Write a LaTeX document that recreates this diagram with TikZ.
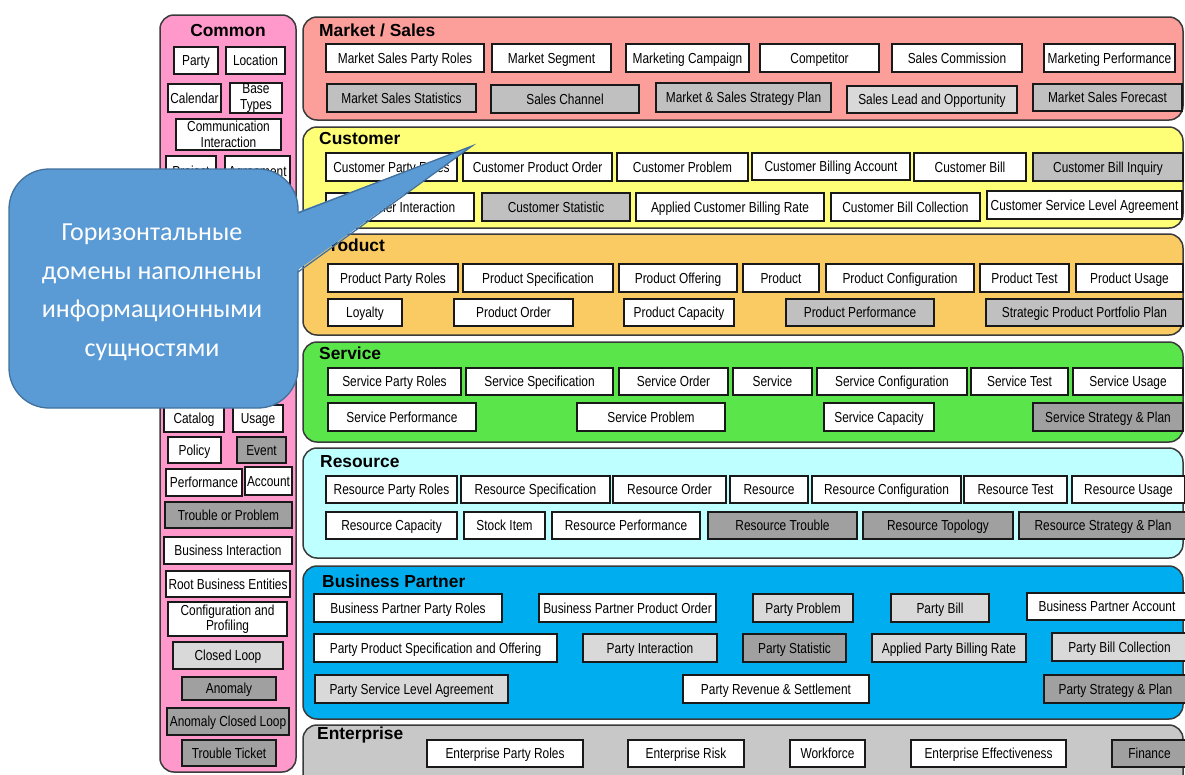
\documentclass[tikz,border=0pt]{standalone}
\usepackage{fontspec}
\setmainfont{Liberation Sans}
\newfontfamily\boxfont[FakeStretch=0.82]{Liberation Sans}
\newfontfamily\calfont{Carlito}

\definecolor{cCommon}{HTML}{FF99CC}
\definecolor{cMarket}{HTML}{FC9E9A}
\definecolor{cCustomer}{HTML}{FFFF77}
\definecolor{cProduct}{HTML}{FBCB63}
\definecolor{cService}{HTML}{5AE64B}
\definecolor{cResource}{HTML}{BEFFFF}
\definecolor{cPartner}{HTML}{00AEEF}
\definecolor{cEnterprise}{HTML}{C8C8C8}
\definecolor{gL}{HTML}{D9D9D9}
\definecolor{gM}{HTML}{C0C0C0}
\definecolor{gD}{HTML}{A0A0A0}
\definecolor{calloutFill}{HTML}{5B9BD5}
\definecolor{calloutLine}{HTML}{41719C}
\definecolor{panelLine}{HTML}{3A3A3A}

% entity box (one line): name, fill, x1, y1, x2, y2, text
\newcommand{\ent}[7]{%
  \node[entity, text height=10.4pt, text depth=0pt, fill=#2,
        minimum width={#5pt-#3pt}, minimum height={#6pt-#4pt}]
    (#1) at ({(#3+#5)/2},{(#4+#6)/2}) {#7};}
% entity box (two lines)
\newcommand{\entml}[7]{%
  \node[entity, fill=#2, minimum width={#5pt-#3pt}, minimum height={#6pt-#4pt}]
    (#1) at ({(#3+#5)/2},{(#4+#6)/2}) {#7};}
% domain panel: x1, y1, x2, y2, fill
\newcommand{\panel}[5]{%
  \path[domainpanel, fill=#5] (#1,#2) rectangle (#3,#4);}

\tikzset{
  entity/.style={draw=black!90, line width=1.4pt, inner sep=0pt, align=center,
    font=\boxfont\fontsize{14.5}{15.5}\selectfont},
  domainpanel/.style={draw=panelLine, line width=1.5pt, rounded corners=14pt},
  title/.style={anchor=base west, inner sep=0pt, font=\bfseries\fontsize{17.4}{19}\selectfont},
}

\begin{document}
\begin{tikzpicture}[x=1pt, y=-1pt]
\useasboundingbox (0,0) rectangle (1185,774);
\fill[white] (0,0) rectangle (1185,774);

% ---------- panels ----------
\panel{160}{15}{296}{772}{cCommon}
\panel{303}{17}{1183}{120}{cMarket}
\panel{303}{127}{1183}{228}{cCustomer}
\panel{303}{234}{1183}{335}{cProduct}
\panel{303}{342}{1183}{442}{cService}
\panel{303}{448}{1183}{558}{cResource}
\panel{303}{566}{1183}{719}{cPartner}
\panel{303}{725}{1183}{800}{cEnterprise}

% ---------- titles ----------
\node[title, anchor=base] (tCommon) at (228,36) {Common};
\node[title] (tMarket) at (319,36) {Market / Sales};
\node[title] (tCustomer) at (319,144.3) {Customer};
\node[title] (tProduct) at (319,251.7) {Product};
\node[title] (tService) at (319,359) {Service};
\node[title] (tResource) at (320,467) {Resource};
\node[title] (tPartner) at (322,587) {Business Partner};
\node[title] (tEnterprise) at (317,739) {Enterprise};

% ---------- Common ----------
\ent{cParty}{white}{174}{47}{218}{74}{Party}
\ent{cLoc}{white}{226}{47}{285}{74}{Location}
\ent{cCal}{white}{168}{84}{221}{112}{Calendar}
\entml{cBase}{white}{230}{83}{282}{113}{Base\\Types}
\entml{cComm}{white}{176}{119}{281}{150}{Communication\\Interaction}
\ent{cProj}{white}{166}{156}{216}{186}{Project}
\ent{cAgr}{white}{225}{156}{290}{186}{Agreement}
\ent{cCat}{white}{164}{405}{224}{432}{Catalog}
\ent{cUse}{white}{233}{405}{283}{432}{Usage}
\ent{cPol}{white}{168}{437}{221}{463}{Policy}
\ent{cEv}{gD}{237}{437}{286}{463}{Event}
\ent{cPerf}{white}{166}{469}{242}{496}{Performance}
\ent{cAcc}{white}{245}{467}{292}{495}{Account}
\ent{cTrb}{gD}{165}{502}{292}{528}{Trouble or Problem}
\ent{cBI}{white}{164}{537}{292}{564}{Business Interaction}
\ent{cRoot}{white}{166}{571}{290}{597}{Root Business Entities}
\entml{cConf}{white}{168}{602}{287}{636}{Configuration and\\Profiling}
\ent{cCL}{gL}{173}{642}{283}{669}{Closed Loop}
\ent{cAn}{gD}{182}{677}{276}{700}{Anomaly}
\ent{cACL}{gD}{167}{708}{289}{735}{Anomaly Closed Loop}
\ent{cTT}{gD}{182}{740}{276}{766}{Trouble Ticket}

% ---------- Market / Sales ----------
\ent{msPR}{white}{326}{44}{484}{72}{Market Sales Party Roles}
\ent{msSeg}{white}{492}{44}{611}{72}{Market Segment}
\ent{msCamp}{white}{626}{44}{749}{72}{Marketing Campaign}
\ent{msComp}{white}{760}{44}{879}{72}{Competitor}
\ent{msComm}{white}{892}{44}{1022}{72}{Sales Commission}
\ent{msPerf}{white}{1044}{44}{1175}{72}{Marketing Performance}
\ent{msStat}{gM}{327}{84}{476}{112}{Market Sales Statistics}
\ent{msChan}{gM}{491}{85}{639}{113}{Sales Channel}
\ent{msPlan}{gM}{656}{83}{831}{112}{Market \& Sales Strategy Plan}
\ent{msLead}{gL}{847}{86}{1017}{113}{Sales Lead and Opportunity}
\ent{msFc}{gM}{1033}{84}{1182}{111}{Market Sales Forecast}

% ---------- Customer ----------
\ent{cuPR}{white}{326}{153}{457}{181}{Customer Party Roles}
\ent{cuPO}{white}{463}{153}{612}{181}{Customer Product Order}
\ent{cuProb}{white}{617}{153}{748}{181}{Customer Problem}
\ent{cuBA}{white}{752}{153}{910}{180}{Customer Billing Account}
\ent{cuBill}{white}{914}{153}{1026}{181}{Customer Bill}
\ent{cuInq}{gM}{1033}{153}{1183}{181}{Customer Bill Inquiry}
\ent{cuInt}{white}{326}{193}{474}{221}{Customer Interaction}
\ent{cuStat}{gM}{482}{193}{630}{221}{Customer Statistic}
\ent{cuRate}{white}{636}{193}{824}{221}{Applied Customer Billing Rate}
\ent{cuColl}{white}{831}{193}{980}{221}{Customer Bill Collection}
\ent{cuSLA}{white}{987}{191}{1182}{219}{Customer Service Level Agreement}

% ---------- Product ----------
\ent{pPR}{white}{328}{264}{458}{292}{Product Party Roles}
\ent{pSpec}{white}{463}{264}{613}{292}{Product Specification}
\ent{pOff}{white}{619}{264}{737}{292}{Product Offering}
\ent{pProd}{white}{743}{264}{819}{292}{Product}
\ent{pConf}{white}{826}{264}{974}{292}{Product Configuration}
\ent{pTest}{white}{980}{264}{1069}{292}{Product Test}
\ent{pUse}{white}{1076}{264}{1183}{292}{Product Usage}
\ent{pLoy}{white}{328}{299}{402}{326}{Loyalty}
\ent{pOrd}{white}{454}{299}{573}{326}{Product Order}
\ent{pCap}{white}{624}{299}{734}{326}{Product Capacity}
\ent{pPerf}{gM}{786}{299}{934}{326}{Product Performance}
\ent{pPlan}{gM}{986}{299}{1183}{326}{Strategic Product Portfolio Plan}

% ---------- Service ----------
\ent{sPR}{white}{328}{368}{461}{395}{Service Party Roles}
\ent{sSpec}{white}{466}{368}{613}{395}{Service Specification}
\ent{sOrd}{white}{619}{368}{728}{395}{Service Order}
\ent{sServ}{white}{733}{368}{812}{395}{Service}
\ent{sConf}{white}{817}{368}{967}{395}{Service Configuration}
\ent{sTest}{white}{971}{368}{1068}{395}{Service Test}
\ent{sUse}{white}{1073}{368}{1183}{395}{Service Usage}
\ent{sPerf}{white}{328}{403}{476}{431}{Service Performance}
\ent{sProb}{white}{577}{403}{725}{431}{Service Problem}
\ent{sCap}{white}{824}{403}{934}{431}{Service Capacity}
\ent{sPlan}{gD}{1033}{403}{1183}{431}{Service Strategy \& Plan}

% ---------- Resource ----------
\ent{rPR}{white}{326}{476}{457}{503}{Resource Party Roles}
\ent{rSpec}{white}{461}{476}{610}{503}{Resource Specification}
\ent{rOrd}{white}{613}{476}{726}{503}{Resource Order}
\ent{rRes}{white}{730}{476}{808}{503}{Resource}
\ent{rConf}{white}{812}{476}{961}{503}{Resource Configuration}
\ent{rTest}{white}{964}{476}{1067}{503}{Resource Test}
\ent{rUse}{white}{1072}{476}{1185}{503}{Resource Usage}
\ent{rCap}{white}{326}{512}{457}{539}{Resource Capacity}
\ent{rStock}{white}{464}{512}{545}{539}{Stock Item}
\ent{rPerf}{white}{552}{512}{700}{539}{Resource Performance}
\ent{rTrb}{gD}{708}{512}{857}{539}{Resource Trouble}
\ent{rTop}{gD}{863}{512}{1013}{539}{Resource Topology}
\ent{rPlan}{gD}{1019}{512}{1187}{539}{Resource Strategy \& Plan}

% ---------- Business Partner ----------
\ent{bPR}{white}{314}{594}{502}{622}{Business Partner Party Roles}
\ent{bPO}{white}{539}{594}{716}{622}{Business Partner Product Order}
\ent{bProb}{gL}{753}{594}{853}{622}{Party Problem}
\ent{bBill}{gL}{891}{594}{989}{622}{Party Bill}
\ent{bAcc}{white}{1027}{593}{1187}{620}{Business Partner Account}
\ent{bSpec}{white}{314}{634}{557}{662}{Party Product Specification and Offering}
\ent{bInt}{gL}{583}{634}{717}{662}{Party Interaction}
\ent{bStat}{gD}{743}{634}{846}{662}{Party Statistic}
\ent{bRate}{gL}{872}{634}{1026}{662}{Applied Party Billing Rate}
\ent{bColl}{gL}{1052}{633}{1187}{661}{Party Bill Collection}
\ent{bSLA}{gL}{315}{675}{508}{703}{Party Service Level Agreement}
\ent{bRev}{white}{683}{675}{869}{703}{Party Revenue \& Settlement}
\ent{bPlan}{gD}{1044}{675}{1187}{703}{Party Strategy \& Plan}

% ---------- Enterprise ----------
\ent{ePR}{white}{427}{740}{583}{767}{Enterprise Party Roles}
\ent{eRisk}{white}{628}{740}{744}{767}{Enterprise Risk}
\ent{eWork}{white}{790}{740}{865}{767}{Workforce}
\ent{eEff}{white}{911}{740}{1066}{767}{Enterprise Effectiveness}
\ent{eFin}{gD}{1112}{740}{1187}{767}{Finance}

% ---------- callout ----------
\path[fill=calloutFill, draw=calloutLine, line width=1.3pt, rounded corners=40pt]
  (9,169) rectangle (298,408);
\coordinate (tipA) at (298,213);
\coordinate (tip) at (472,146);
\coordinate (tipB) at (298,272);
\fill[calloutFill] (295,213) -- (tip) -- (295,272) -- cycle;
\draw[calloutLine, line width=1.3pt, line join=miter] (tipA) -- (tip) -- (tipB);
\node[text=white, align=center, inner sep=0pt,
      font=\calfont\fontsize{26}{38.5}\selectfont] (note) at (152,292.5)
  {Горизонтальные\\домены наполнены\\информационными\\сущностями};
\end{tikzpicture}
\end{document}
